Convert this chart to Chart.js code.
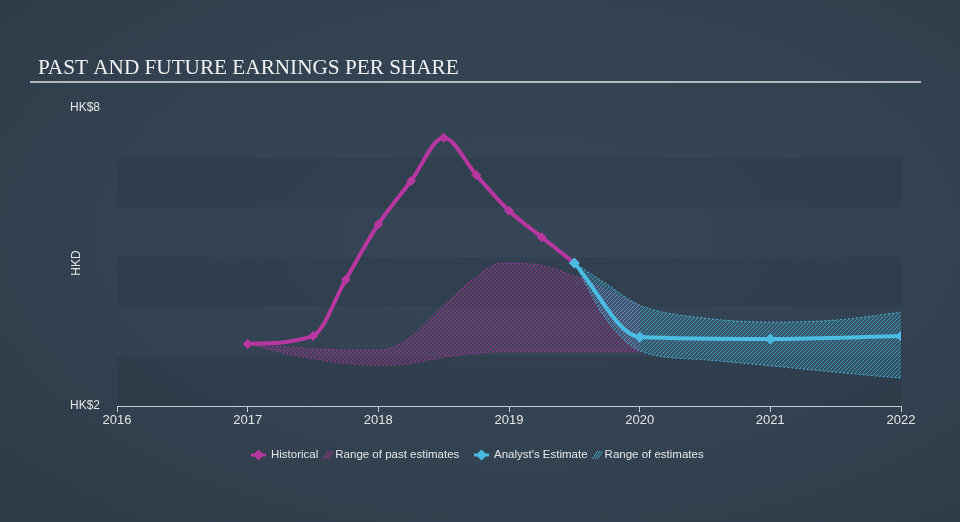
<!DOCTYPE html>
<html><head><meta charset="utf-8">
<script src="https://cdn.jsdelivr.net/npm/chart.js@4"></script>
<style>
html,body{margin:0;padding:0;background:#333f4e;}
body{width:960px;height:522px;overflow:hidden;background:radial-gradient(ellipse at 55% 45%,#364657 0%,#334251 55%,#2e3a48 100%);}
#wrap{position:absolute;left:0;top:0;width:960px;height:522px;}
</style></head><body>
<div id="wrap"><canvas id="c" width="960" height="522"></canvas></div>
<script>
const title = "PAST AND FUTURE EARNINGS PER SHARE";
const yTickLabels = {2: "HK$2", 8: "HK$8"};
const xTicks = [2016, 2017, 2018, 2019, 2020, 2021, 2022];

const histX = [2017.0, 2017.5, 2017.75, 2018.0, 2018.25, 2018.5, 2018.75, 2019.0, 2019.25, 2019.5];
const histY = [3.25, 3.41, 4.54, 5.66, 6.53, 7.40, 6.65, 5.93, 5.40, 4.88];

const estX = [2019.5, 2020.0, 2021.0, 2022.0];
const estY = [4.88, 3.39, 3.35, 3.41];

const pastRangeX    = [2017.0, 2017.4, 2017.75, 2018.0, 2018.2, 2018.45, 2018.7, 2018.95, 2019.2, 2019.5, 2019.75, 2020.0];
const pastRangeHigh = [3.25, 3.17, 3.13, 3.13, 3.30, 3.90, 4.50, 4.88, 4.85, 4.62, 4.32, 4.03];
const pastRangeLow  = [3.25, 3.00, 2.86, 2.82, 2.84, 2.96, 3.05, 3.09, 3.09, 3.09, 3.09, 3.09];

const estRangeX    = [2019.5, 2019.75, 2020.0, 2020.5, 2021.0, 2021.5, 2022.0];
const estRangeHigh = [4.88, 4.45, 4.03, 3.77, 3.69, 3.73, 3.89];
const estRangeLow  = [4.88, 3.72, 3.11, 2.93, 2.81, 2.68, 2.56];

const MAG = '#b5379f';
const BLUE = '#4bbde3';

function hatch(lineColor, baseColor){
  const p = document.createElement('canvas');
  p.width = 4; p.height = 4;
  const g = p.getContext('2d');
  g.fillStyle = baseColor; g.fillRect(0,0,4,4);
  g.strokeStyle = lineColor; g.lineWidth = 1;
  g.beginPath();
  g.moveTo(0,4); g.lineTo(4,0);
  g.moveTo(-1,1); g.lineTo(1,-1);
  g.moveTo(3,5); g.lineTo(5,3);
  g.stroke();
  return g.createPattern(p,'repeat');
}
const ctx0 = document.getElementById('c').getContext('2d');
const magHatch = hatch('rgba(181,55,159,0.6)','rgba(181,55,159,0.12)');
const blueHatch = hatch('rgba(75,189,227,0.6)','rgba(75,189,227,0.16)');

const pts = (xs, ys) => xs.map((x,i)=>({x:x, y:ys[i]}));

const bgPlugin = {
  id:'bands',
  beforeDatasetsDraw(chart){
    const {ctx, chartArea:a, scales:{y}} = chart;
    ctx.save();
    ctx.fillStyle = 'rgba(20,30,40,0.11)';
    [[2,3],[4,5],[6,7]].forEach(([lo,hi])=>{
      const t = y.getPixelForValue(hi), b = y.getPixelForValue(lo);
      ctx.fillRect(a.left, t, a.right-a.left, b-t);
    });
    ctx.restore();
  },
  afterDraw(chart){
    const {ctx, chartArea:a, scales:{y}} = chart;
    ctx.save();
    ctx.fillStyle = '#f2f2f2';
    ctx.textBaseline = 'alphabetic';
    ctx.textAlign = 'left';
    let fs = 22;
    ctx.font = fs + 'px "Liberation Serif", "DejaVu Serif", serif';
    const w = ctx.measureText(title).width;
    fs = fs * 421 / w;
    ctx.font = fs.toFixed(2) + 'px "Liberation Serif", "DejaVu Serif", serif';
    ctx.fillText(title, 38, 74);
    ctx.fillStyle = '#b4b9c0';
    ctx.fillRect(30, 81, 891, 2);
    ctx.fillStyle = '#e6e6e6';
    ctx.font = '12px "Liberation Sans", Arial, sans-serif';
    ctx.textBaseline = 'middle';
    Object.keys(yTickLabels).forEach(v=>{
      ctx.fillText(yTickLabels[v], 70, y.getPixelForValue(+v));
    });
    ctx.save();
    ctx.translate(77, (y.getPixelForValue(2)+y.getPixelForValue(8))/2 + 6);
    ctx.rotate(-Math.PI/2);
    ctx.textAlign = 'center';
    ctx.fillText('HKD', 0, 0);
    ctx.restore();
    const ly = 455;
    ctx.font = '11.5px "Liberation Sans", Arial, sans-serif';
    ctx.textBaseline = 'middle';
    ctx.textAlign = 'left';
    function lineIcon(x, color){
      ctx.strokeStyle = color; ctx.lineWidth = 3;
      ctx.beginPath(); ctx.moveTo(x, ly); ctx.lineTo(x+15, ly); ctx.stroke();
      ctx.fillStyle = color;
      ctx.beginPath(); ctx.moveTo(x+7.5, ly-5.5); ctx.lineTo(x+13, ly); ctx.lineTo(x+7.5, ly+5.5); ctx.lineTo(x+2, ly); ctx.closePath(); ctx.fill();
    }
    function hatchIcon(x, color){
      ctx.strokeStyle = color; ctx.lineWidth = 1;
      ctx.beginPath();
      for(let k=0;k<3;k++){ ctx.moveTo(x+k*2.5, ly+4); ctx.lineTo(x+k*2.5+5, ly-4); }
      ctx.stroke();
    }
    let x = 251;
    lineIcon(x, MAG); x += 20;
    ctx.fillStyle = '#e6e6e6'; ctx.fillText('Historical', x, ly); x += ctx.measureText('Historical').width + 5;
    hatchIcon(x, 'rgba(181,55,159,0.8)'); x += 12;
    ctx.fillStyle = '#e6e6e6'; ctx.fillText('Range of past estimates', x, ly);
    x = 474;
    lineIcon(x, BLUE); x += 20;
    ctx.fillStyle = '#e6e6e6'; ctx.fillText("Analyst's Estimate", x, ly); x += ctx.measureText("Analyst's Estimate").width + 5;
    hatchIcon(x, 'rgba(75,189,227,0.8)'); x += 12;
    ctx.fillStyle = '#e6e6e6'; ctx.fillText('Range of estimates', x, ly);
    ctx.restore();
  }
};

new Chart(document.getElementById('c'), {
  type: 'line',
  data: {
    datasets: [
      {data: pts(pastRangeX, pastRangeLow), borderColor:'rgba(181,55,159,0.75)', borderWidth:1, borderDash:[2,2], pointRadius:0, fill:false, cubicInterpolationMode:'monotone', order:5},
      {data: pts(pastRangeX, pastRangeHigh), borderColor:'rgba(181,55,159,0.75)', borderWidth:1, borderDash:[2,2], pointRadius:0, fill:'-1', backgroundColor: magHatch, cubicInterpolationMode:'monotone', order:5},
      {data: pts(estRangeX, estRangeLow), borderColor:'rgba(75,189,227,0.85)', borderWidth:1, borderDash:[2,2], pointRadius:0, fill:false, cubicInterpolationMode:'monotone', order:4},
      {data: pts(estRangeX, estRangeHigh), borderColor:'rgba(75,189,227,0.85)', borderWidth:1, borderDash:[2,2], pointRadius:0, fill:'-1', backgroundColor: blueHatch, cubicInterpolationMode:'monotone', order:4},
      {data: pts(histX, histY), borderColor: MAG, backgroundColor: MAG, borderWidth:4, pointStyle:'rectRot', pointRadius:5, pointBorderWidth:0, cubicInterpolationMode:'monotone', fill:false, order:2},
      {data: pts(estX, estY), borderColor: BLUE, backgroundColor: BLUE, borderWidth:4, pointStyle:'rectRot', pointRadius:5.5, pointBorderWidth:0, cubicInterpolationMode:'monotone', fill:false, order:1}
    ]
  },
  options: {
    responsive:false, animation:false, devicePixelRatio:1,
    layout:{padding:{left:117, right:59, top:108, bottom:86}},
    plugins:{legend:{display:false}, tooltip:{enabled:false}, title:{display:false}},
    scales:{
      x:{type:'linear', min:2016, max:2022,
         afterBuildTicks(s){ s.ticks = xTicks.map(v=>({value:v})); },
         afterFit(s){ s.height = 30; },
         grid:{drawOnChartArea:false, drawTicks:true, tickLength:6, color:'#c8ccd2'},
         border:{display:true, color:'#c8ccd2', width:1},
         ticks:{color:'#e6e6e6', font:{size:13, family:'"Liberation Sans", Arial, sans-serif'}, padding:1, maxRotation:0, callback:v=>String(v)}},
      y:{type:'linear', min:2, max:8, display:false}
    }
  },
  plugins:[bgPlugin]
});
</script></body></html>
